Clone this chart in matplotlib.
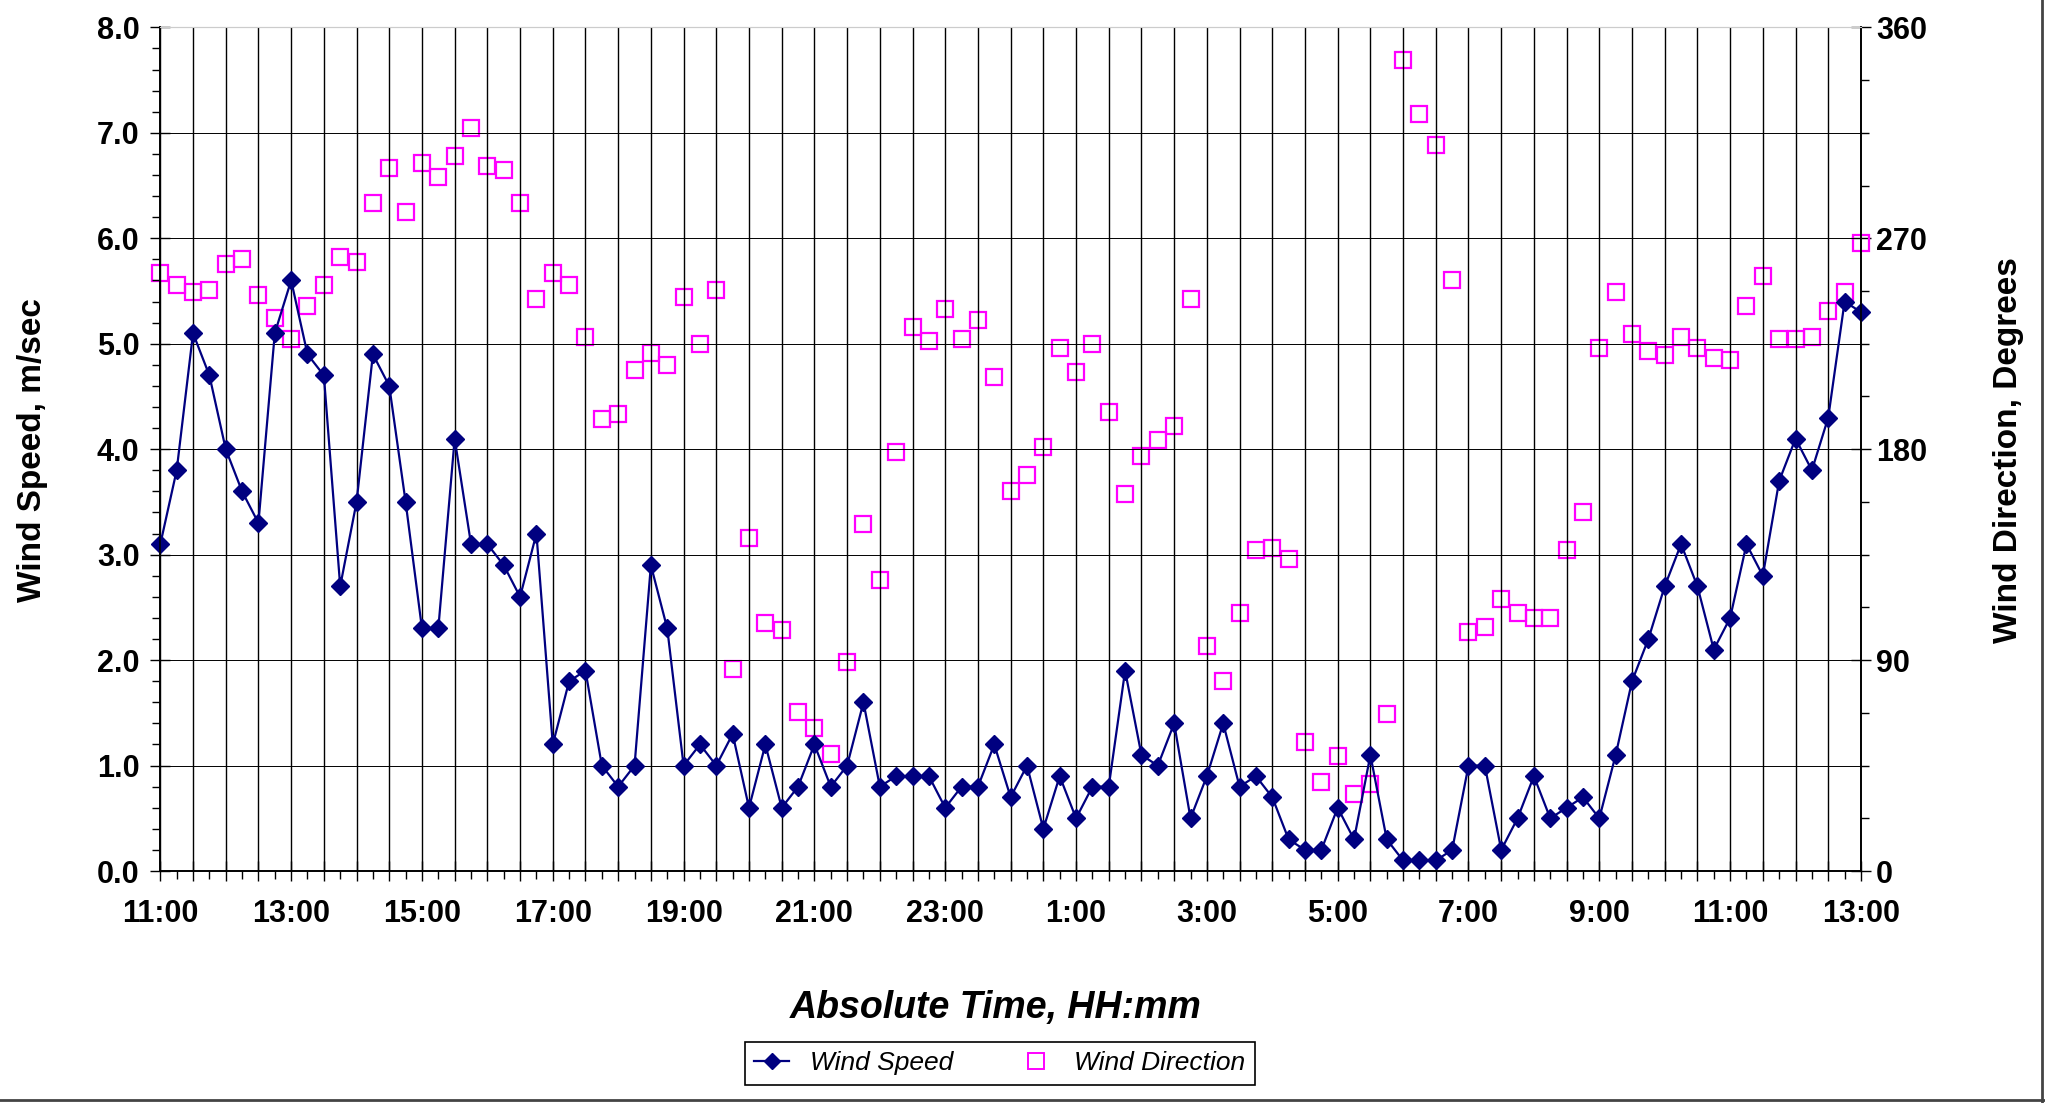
import matplotlib
matplotlib.use("Agg")
import matplotlib.pyplot as plt
from matplotlib.lines import Line2D
from matplotlib.ticker import MultipleLocator, FixedLocator

plt.rcParams['font.family'] = ['Liberation Sans', 'DejaVu Sans']

# 15 minute samples, 11:00 day 1 -> 13:00 day 2 (hours since 11:00)
hours = [i * 0.25 for i in range(105)]

wind_speed = [
    3.1, 3.8, 5.1, 4.7, 4.0, 3.6, 3.3, 5.1, 5.6, 4.9,
    4.7, 2.7, 3.5, 4.9, 4.6, 3.5, 2.3, 2.3, 4.1, 3.1,
    3.1, 2.9, 2.6, 3.2, 1.2, 1.8, 1.9, 1.0, 0.8, 1.0,
    2.9, 2.3, 1.0, 1.2, 1.0, 1.3, 0.6, 1.2, 0.6, 0.8,
    1.2, 0.8, 1.0, 1.6, 0.8, 0.9, 0.9, 0.9, 0.6, 0.8,
    0.8, 1.2, 0.7, 1.0, 0.4, 0.9, 0.5, 0.8, 0.8, 1.9,
    1.1, 1.0, 1.4, 0.5, 0.9, 1.4, 0.8, 0.9, 0.7, 0.3,
    0.2, 0.2, 0.6, 0.3, 1.1, 0.3, 0.1, 0.1, 0.1, 0.2,
    1.0, 1.0, 0.2, 0.5, 0.9, 0.5, 0.6, 0.7, 0.5, 1.1,
    1.8, 2.2, 2.7, 3.1, 2.7, 2.1, 2.4, 3.1, 2.8, 3.7,
    4.1, 3.8, 4.3, 5.4, 5.3,
]

wind_direction = [
    255, 250, 247, 248, 259, 261, 246, 236, 227, 241,
    250, 262, 260, 285, 300, 281, 302, 296, 305, 317,
    301, 299, 285, 244, 255, 250, 228, 193, 195, 214,
    221, 216, 245, 225, 248, 86, 142, 106, 103, 68,
    61, 50, 89, 148, 124, 179, 232, 226, 240, 227,
    235, 211, 162, 169, 181, 223, 213, 225, 196, 161,
    177, 184, 190, 244, 96, 81, 110, 137, 138, 133,
    55, 38, 49, 33, 37, 67, 346, 323, 310, 252,
    102, 104, 116, 110, 108, 108, 137, 153, 223, 247,
    229, 222, 220, 228, 223, 219, 218, 241, 254, 227,
    227, 228, 239, 247, 268,
]

label_hours = list(range(0, 27, 2))
tick_labels = ["%d:00" % ((11 + h) % 24) for h in label_hours]

NAVY = "#000080"
MAGENTA = "#ff00ff"

fig = plt.figure(figsize=(20.45, 11.03), dpi=100)
ax = fig.add_axes([0.0784, 0.2103, 0.9100 - 0.0784, 0.9752 - 0.2103])
ax2 = ax.twinx()

# speed series drawn above direction squares
ax.set_zorder(ax2.get_zorder() + 1)
ax.patch.set_visible(False)
ax2.patch.set_facecolor("#f7f7f7")

ax2.plot(hours, wind_direction, linestyle="none", marker="s", ms=12,
         mfc="none", mec=MAGENTA, mew=1.6, clip_on=False)
ax.plot(hours, wind_speed, color=NAVY, lw=1.6, marker="D", ms=9,
        mfc=NAVY, mec=NAVY, clip_on=False)

ax.set_xlim(0, 26)
ax.set_ylim(0, 8)
ax2.set_ylim(0, 360)

# x axis: grid every 30 min, labels every 2 h, minor ticks every 15 min
major_x = [i * 0.5 for i in range(53)]
lab_map = dict(zip(label_hours, tick_labels))
ax.set_xticks(major_x)
ax.set_xticklabels([lab_map.get(h, "") for h in major_x])
ax.xaxis.set_minor_locator(MultipleLocator(0.25))

ax.set_yticks(range(9))
ax.set_yticklabels(["%.1f" % v for v in range(9)])
ax.yaxis.set_minor_locator(MultipleLocator(0.2))

ax2.yaxis.set_major_locator(FixedLocator([0, 90, 180, 270, 360]))
ax2.yaxis.set_minor_locator(MultipleLocator(22.5))

ax.grid(True, which="major", axis="x", color="black", lw=1.0)
ax.grid(True, which="major", axis="y", color="black", lw=0.7)
ax.set_axisbelow(True)

ax.tick_params(axis="x", which="major", direction="inout", length=14, width=1,
               labelsize=22, pad=13)
ax.tick_params(axis="x", which="minor", direction="out", length=6, width=1)
ax.tick_params(axis="y", which="major", direction="inout", length=14, width=1,
               labelsize=22, pad=8)
ax.tick_params(axis="y", which="minor", direction="out", length=6, width=1)
ax2.tick_params(axis="y", which="major", direction="inout", length=14, width=1,
                labelsize=22, pad=4)
ax2.tick_params(axis="y", which="minor", direction="out", length=6, width=1)
for lab in ax.get_xticklabels() + ax.get_yticklabels() + ax2.get_yticklabels():
    lab.set_fontweight("bold")

for a in (ax, ax2):
    for side in ("left", "right", "bottom"):
        a.spines[side].set_color("black")
        a.spines[side].set_linewidth(1.2)
    a.spines["top"].set_color("#cccccc")

fig.text(0.016, 0.592, "Wind Speed, m/sec", rotation=90, ha="center",
         va="center", fontsize=24, fontweight="bold")
fig.text(0.982, 0.592, "Wind Direction, Degrees", rotation=90, ha="center",
         va="center", fontsize=24, fontweight="bold")
fig.text(0.487, 0.086, "Absolute Time, HH:mm", ha="center", va="center",
         fontsize=27, fontweight="bold", fontstyle="italic")

handles = [
    Line2D([], [], color=NAVY, lw=1.6, marker="D", ms=8, mfc=NAVY, mec=NAVY),
    Line2D([], [], linestyle="none", marker="s", ms=11, mfc="none",
           mec=MAGENTA, mew=1.4),
]
leg = fig.legend(handles, ["Wind Speed", "Wind Direction"], loc="center",
                 bbox_to_anchor=(0.489, 0.036), ncol=2, frameon=True,
                 fancybox=False, framealpha=1, edgecolor="black",
                 prop={"size": 19, "style": "italic"}, handlelength=1.3,
                 columnspacing=2.5, borderpad=0.35)
leg.get_frame().set_linewidth(1.2)

# chart border on right and bottom edges
fig.add_artist(Line2D([0.9985, 0.9985], [0.0, 1.0], transform=fig.transFigure,
                      color="#444444", lw=2))
fig.add_artist(Line2D([0.0, 1.0], [0.0025, 0.0025], transform=fig.transFigure,
                      color="#444444", lw=2))

fig.savefig("out.png", dpi=100)
